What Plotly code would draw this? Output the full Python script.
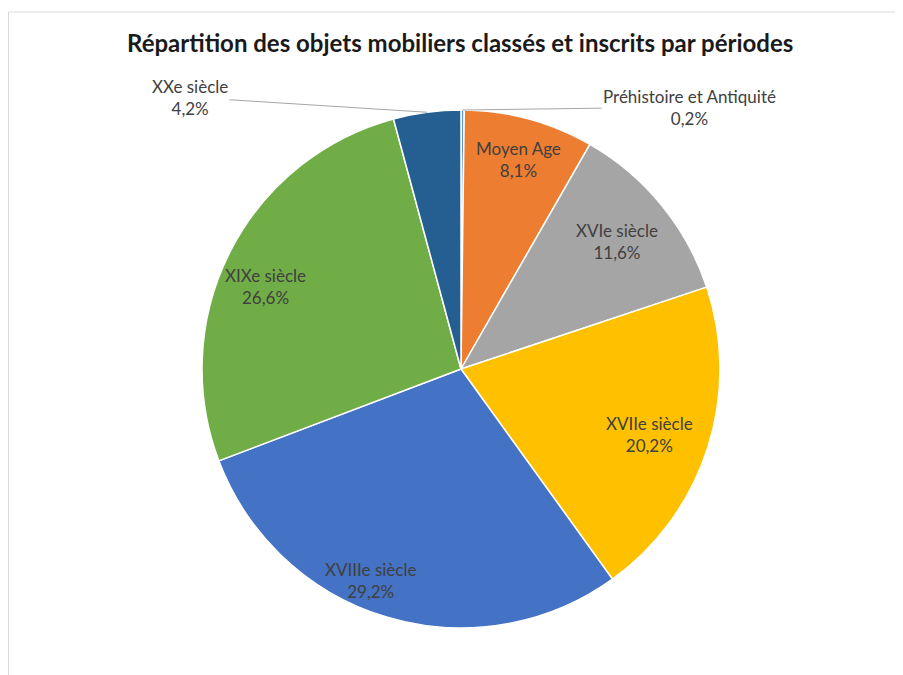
import math
import plotly.graph_objects as go

# data
periods = ["Préhistoire et Antiquité", "Moyen Age", "XVIe siècle", "XVIIe siècle",
           "XVIIIe siècle", "XIXe siècle", "XXe siècle"]
shares = [0.2, 8.1, 11.6, 20.2, 29.2, 26.6, 4.2]
colors = ["#5B9BD5", "#ED7D31", "#A5A5A5", "#FFC000", "#4472C4", "#70AD47", "#255E91"]

W, H = 903, 675
CX, CY, R = 453, 361, 259  # pie centre / radius in px (page body adds 8px)

# inside label placement: fraction of radius and angle nudge (deg); None = outside label
label_r = [None, 0.84, 0.78, 0.77, 0.89, 0.82, None]
label_dth = [0, 0, 0, 1.2, 6.4, -4.1, 0]
# outside label offsets (px from arc midpoint to text centre)
outside_off = {0: (227, -3), 6: (-237, -15)}

FONT = "Lato"
TXT = "#404040"


def pct(v):
    return f"{v:.1f}".replace(".", ",") + "%"


fig = go.Figure()
fig.add_trace(go.Pie(
    labels=periods,
    values=shares,
    sort=False,
    direction="clockwise",
    rotation=0,
    marker=dict(colors=colors, line=dict(color="white", width=1.5)),
    textinfo="none",
    hoverinfo="label+percent",
    showlegend=False,
    domain=dict(x=[(CX - R) / W, (CX + R) / W], y=[1 - (CY + R) / H, 1 - (CY - R) / H]),
))

total = sum(shares)
cum = 0
annotations = []
for i, (name, v) in enumerate(zip(periods, shares)):
    mid = (cum + v / 2) / total
    cum += v
    th = 2 * math.pi * mid + math.radians(label_dth[i])
    text = f"{name}<br>{pct(v)}"
    if label_r[i] is not None:
        px = CX + R * label_r[i] * math.sin(th)
        py = CY - R * label_r[i] * math.cos(th)
        annotations.append(dict(x=px / W, y=1 - py / H, xref="paper", yref="paper",
                                xanchor="center", yanchor="middle",
                                text=text, showarrow=False, align="center",
                                font=dict(family=FONT, size=17, color=TXT)))
    else:
        px = CX + R * math.sin(th)
        py = CY - R * math.cos(th)
        ax, ay = outside_off[i]
        annotations.append(dict(x=px / W, y=1 - py / H, xref="paper", yref="paper",
                                text=text, showarrow=True, arrowhead=0, arrowwidth=1,
                                arrowcolor="#A6A6A6", ax=ax, ay=ay, standoff=0,
                                align="center",
                                font=dict(family=FONT, size=17, color=TXT)))

annotations.append(dict(x=452 / W, y=1 - 34 / H, xref="paper", yref="paper",
                        xanchor="center", yanchor="middle",
                        text="<b>Répartition des objets mobiliers classés et inscrits par périodes</b>",
                        showarrow=False, font=dict(family=FONT, size=24, color="#1A1A1A")))

fig.update_layout(
    width=W, height=H,
    margin=dict(l=0, r=0, t=0, b=0),
    paper_bgcolor="white",
    plot_bgcolor="white",
    annotations=annotations,
    shapes=[dict(type="rect", xref="paper", yref="paper",
                 x0=0.5 / W, x1=1.05, y0=-0.05, y1=1 - 4 / H,
                 line=dict(color="#D9D9D9", width=1), layer="below")],
)

fig.write_html("out.html")
